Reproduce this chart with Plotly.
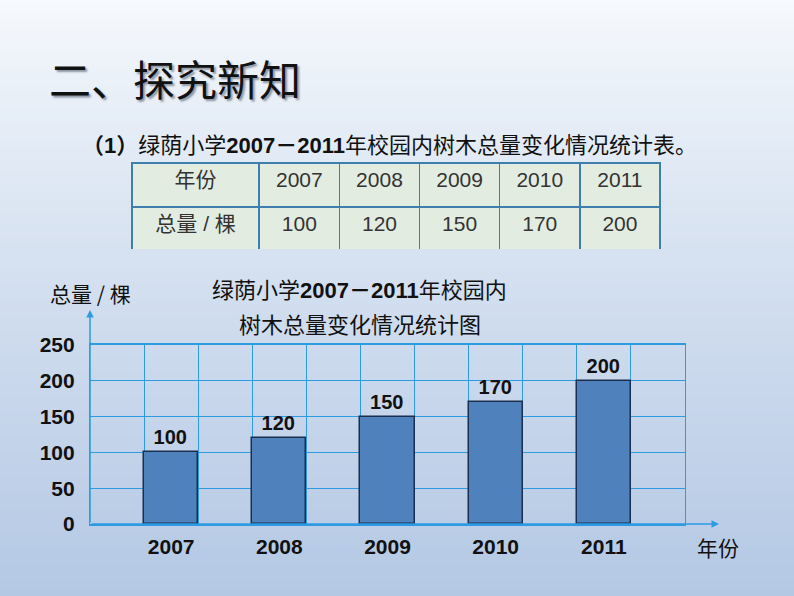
import plotly.graph_objects as go

years = ["2007", "2008", "2009", "2010", "2011"]
totals = [100, 120, 150, 170, 200]
bar_pos = [1.5, 3.5, 5.5, 7.5, 9.5]
y_ticks = [0, 50, 100, 150, 200, 250]

W, H = 794, 596
def px(x):
    return x / W
def py(y):
    return 1 - y / H

fig = go.Figure()

# bars
fig.add_trace(go.Bar(
    x=bar_pos, y=totals, width=1,
    marker=dict(color="#4f81bd", line=dict(color="#1a2f4f", width=1.5)),
    text=[str(v) for v in totals], textposition="outside",
    textfont=dict(family="Liberation Sans", size=20, color="#111"),
    texttemplate="<b>%{text}</b>", cliponaxis=False,
    hoverinfo="skip", showlegend=False,
))

# table
col_w = [127, 80, 80, 80, 80, 80]
tbl_font = dict(family="Liberation Sans, Noto Sans CJK SC", size=21, color="#333")
fig.add_trace(go.Table(
    domain=dict(x=[px(132), px(660)], y=[py(250), py(163)]),
    columnwidth=col_w,
    header=dict(values=["年份"] + years,
                fill_color="#e3ece1", line=dict(color="#3f7fae", width=1.5),
                font=tbl_font, align="center", height=44),
    cells=dict(values=[["总量 / 棵"]] + [[str(v)] for v in totals],
               fill_color="#e3ece1", line=dict(color="#3f7fae", width=1.5),
               font=tbl_font, align="center", height=44),
))

# gradient background
shapes = []
N = 90
top = (247, 250, 253)
bot = (180, 200, 228)
for i in range(N):
    t = ((i + 0.5) / N) ** 0.85
    c = tuple(round(top[k] + (bot[k] - top[k]) * t) for k in range(3))
    shapes.append(dict(type="rect", xref="paper", yref="paper",
                       x0=0, x1=1, y0=1 - (i + 1) / N - 0.002, y1=1 - i / N,
                       fillcolor="rgb(%d,%d,%d)" % c, line=dict(width=0), layer="below"))

grid_c = "#2e9ae2"
annotations = [
    dict(text="二、探究新知", xref="paper", yref="paper", x=px(47), y=py(78),
         xanchor="left", yanchor="middle", showarrow=False,
         font=dict(family="Noto Sans CJK SC", size=42, color="#111",
                   shadow="2px 2px 2px #8a95a3")),
    dict(text="<b>（1）</b>绿荫小学<b>2007－2011</b>年校园内树木总量变化情况统计表。",
         xref="paper", yref="paper", x=px(80), y=py(145), xanchor="left", yanchor="middle",
         showarrow=False, font=dict(family="Liberation Sans, Noto Sans CJK SC", size=22, color="#111")),
    dict(text="绿荫小学<b>2007－2011</b>年校园内", xref="paper", yref="paper",
         x=px(359), y=py(290), xanchor="center", yanchor="middle", showarrow=False,
         font=dict(family="Liberation Sans, Noto Sans CJK SC", size=22, color="#111")),
    dict(text="树木总量变化情况统计图", xref="paper", yref="paper",
         x=px(360), y=py(323), xanchor="center", yanchor="middle", showarrow=False,
         font=dict(family="Noto Sans CJK SC", size=22, color="#111")),
    dict(text="总量 / 棵", xref="paper", yref="paper",
         x=px(90), y=py(293), xanchor="center", yanchor="middle", showarrow=False,
         font=dict(family="Noto Sans CJK SC", size=21, color="#111")),
    dict(text="年份", xref="paper", yref="paper",
         x=px(718), y=py(547), xanchor="center", yanchor="middle", showarrow=False,
         font=dict(family="Noto Sans CJK SC", size=21, color="#111")),
    # axis arrows
    dict(x=(719 - 90) / 595, y=0, xref="x domain", yref="y",
         ax=0, ay=0, axref="x domain", ayref="y", showarrow=True,
         arrowhead=2, arrowsize=1, arrowwidth=1.5, arrowcolor=grid_c, text=""),
    dict(x=0, y=(524 - 310) / 179, xref="x domain", yref="y domain",
         ax=0, ay=0, axref="x domain", ayref="y domain", showarrow=True,
         arrowhead=2, arrowsize=1, arrowwidth=1.5, arrowcolor=grid_c, text=""),
]

fig.update_layout(
    width=W, height=H,
    margin=dict(l=0, r=0, t=0, b=0, pad=0, autoexpand=False),
    paper_bgcolor="#dbe5f1", plot_bgcolor="rgba(0,0,0,0)",
    shapes=shapes, annotations=annotations, showlegend=False, bargap=0,
    xaxis=dict(domain=[px(90), px(685)], range=[0, 11], automargin=False,
               tickvals=bar_pos, ticktext=["<b>%s</b>" % y for y in years],
               tickfont=dict(family="Liberation Sans", size=21, color="#111"),
               showgrid=False, zeroline=False, showline=True, mirror=True,
               linecolor=grid_c, linewidth=1.5, ticks="",
               ticklabelstandoff=3,
               minor=dict(tickmode="linear", tick0=0, dtick=1, showgrid=True,
                          gridcolor=grid_c, gridwidth=1.2, ticks="")),
    yaxis=dict(domain=[py(524), py(345)], range=[0, 250], automargin=False,
               tickvals=y_ticks, ticktext=["<b>%d</b>" % v for v in y_ticks],
               tickfont=dict(family="Liberation Sans", size=21, color="#111"),
               showgrid=True, gridcolor=grid_c, gridwidth=1.2, zeroline=False,
               showline=True, mirror=True, linecolor=grid_c, linewidth=1.2,
               ticks="", ticklabelstandoff=10),
)

fig.write_html("out.html", config={"displayModeBar": False},
               post_script="document.body.style.margin='0';document.body.style.padding='0';")
